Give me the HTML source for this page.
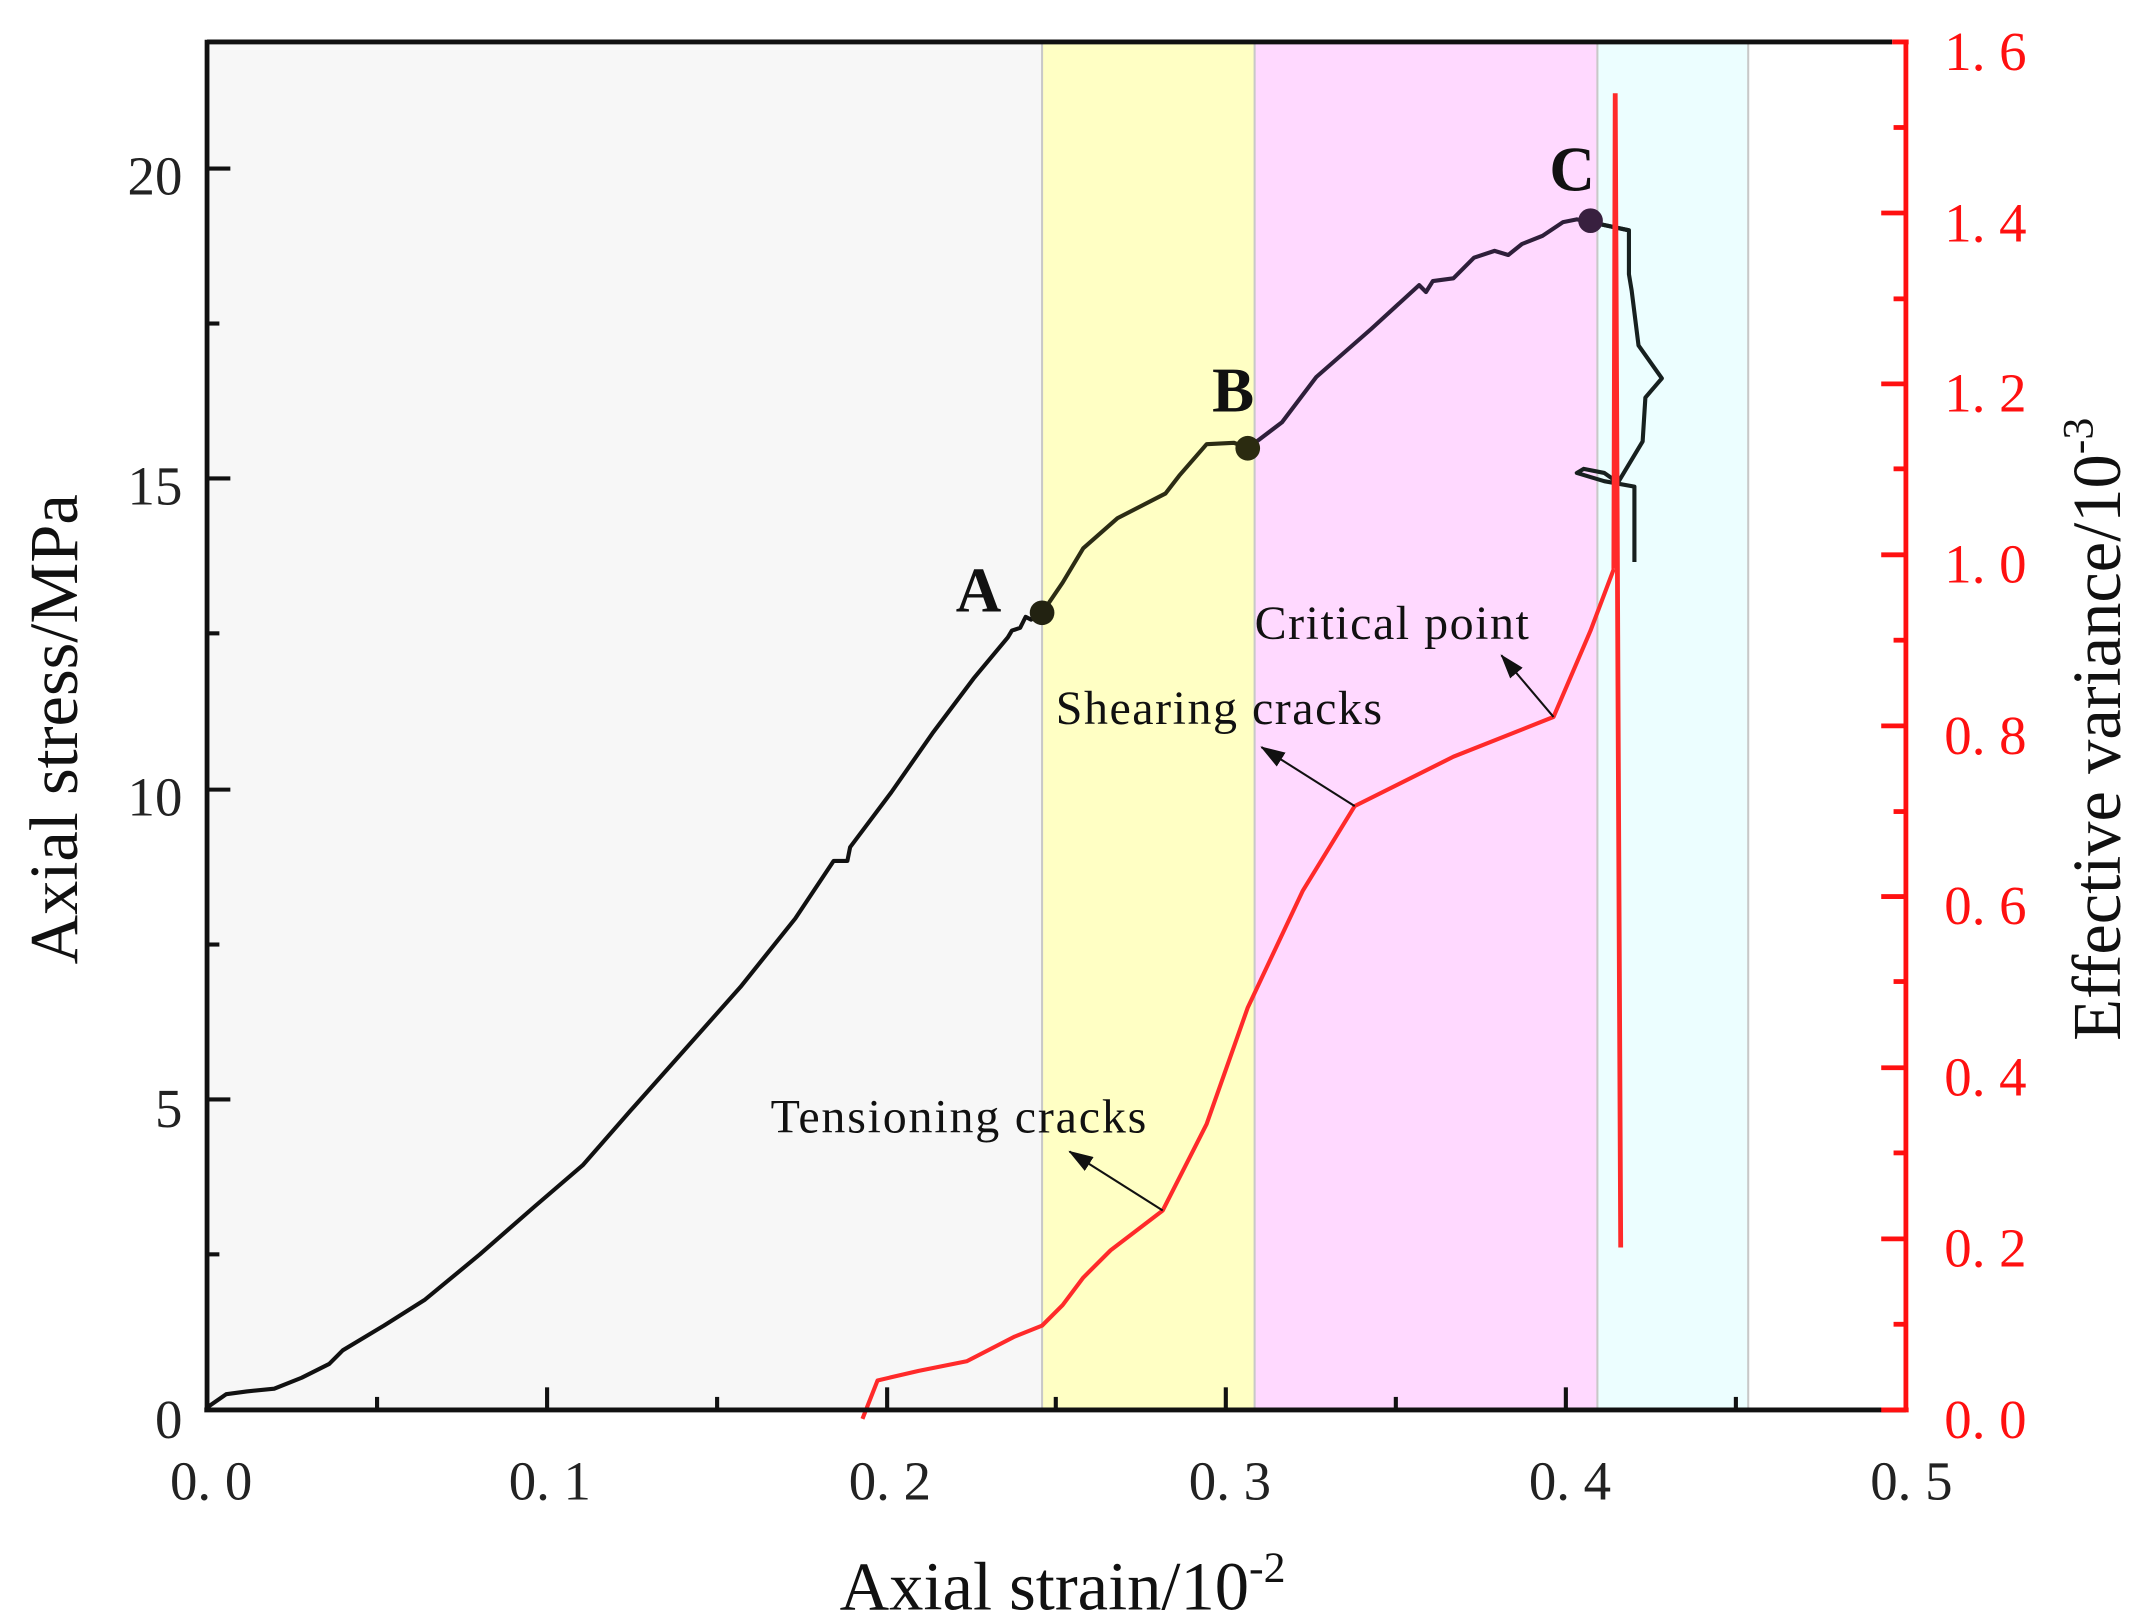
<!DOCTYPE html>
<html><head><meta charset="utf-8"><style>html,body{margin:0;padding:0;background:#fff}svg{display:block}</style></head>
<body>
<svg width="2139" height="1619" viewBox="0 0 1560 1181" preserveAspectRatio="none" xmlns="http://www.w3.org/2000/svg" font-family="Liberation Serif, serif">
<rect x="0" y="0" width="1560" height="1181" fill="#fff"/>
<rect x="151" y="30.6" width="609" height="998" fill="#f7f7f7"/>
<rect x="760" y="30.6" width="155" height="998" fill="#ffffc4"/>
<rect x="915" y="30.6" width="250" height="998" fill="#ffd9ff"/>
<rect x="1165" y="30.6" width="110" height="998" fill="#ecfeff"/>
<g stroke="#c8c8c8" stroke-width="1.5">
<line x1="760" y1="30.6" x2="760" y2="1028.5"/><line x1="915" y1="30.6" x2="915" y2="1028.5"/><line x1="1165" y1="30.6" x2="1165" y2="1028.5"/><line x1="1275" y1="30.6" x2="1275" y2="1028.5"/>
</g>
<polyline fill="none" stroke="#111" stroke-width="3" stroke-linejoin="round" points="152,1026 165,1017 180,1015 200,1013 220,1005 240,995 250,985 280,967 310,948 350,915 390,880 425,850 460,810 500,765 540,720 580,670 608,628 618,628 620,618 650,578 680,535 710,495 735,465 738,460 744,458 748,450 752,452 760,447"/>
<polyline fill="none" stroke="#2c2c14" stroke-width="3" stroke-linejoin="round" points="760,447 775,425 790,400 815,378 850,360 860,347 880,324 900,323 910,327"/>
<polyline fill="none" stroke="#2e1f3a" stroke-width="3" stroke-linejoin="round" points="910,327 935,308 960,275 1000,240 1035,208 1040,213 1045,205 1060,203 1075,188 1090,183 1100,186 1110,178 1125,172 1140,162 1150,160 1160,162 1188,168"/>
<polyline fill="none" stroke="#17201f" stroke-width="3" stroke-linejoin="round" points="1160,162 1188,168 1188,200 1190,212 1195,252 1212,276 1200,290 1198,322 1180,352 1170,345 1155,342 1150,345 1170,351 1192,355 1192,410"/>
<polyline fill="none" stroke="#ff2a2a" stroke-width="3" stroke-linejoin="round" points="629,1035 640,1007 670,1000 705,993 740,975 760,967 775,952 790,932 810,912 848,883 880,820 910,735 950,650 988,588 1060,552 1133,523 1160,460 1177,415"/>
<polyline fill="none" stroke="#ff2a2a" stroke-width="3.5" points="1177,415 1178,68 1180,500 1182,910"/>
<circle cx="760" cy="447" r="9" fill="#222211"/>
<circle cx="910" cy="327" r="9" fill="#2b2b10"/>
<circle cx="1160" cy="161" r="9" fill="#38203f"/>
<g font-weight="bold" font-size="46" fill="#111">
<text x="697" y="446">A</text><text x="884" y="300">B</text><text x="1130" y="139">C</text>
</g>
<g font-size="35" fill="#111">
<text x="915" y="466" textLength="200">Critical point</text>
<text x="770" y="528" textLength="238">Shearing cracks</text>
<text x="562" y="826" textLength="274">Tensioning cracks</text>
</g>
<defs>
<marker id="ar2" markerWidth="18" markerHeight="12" refX="17" refY="6" orient="auto" markerUnits="userSpaceOnUse"><path d="M0,0 L18,6 L0,12 z" fill="#111"/></marker></defs>
<g stroke="#111" stroke-width="1.5" marker-end="url(#ar2)">
<line x1="1133" y1="523" x2="1095" y2="478"/>
<line x1="988" y1="588" x2="920" y2="545"/>
<line x1="848" y1="883" x2="780" y2="840"/>
</g>
<g stroke="#111" stroke-width="3.5" fill="none">
<line x1="151" y1="30.6" x2="1380" y2="30.6"/>
<line x1="151" y1="29" x2="151" y2="1030"/>
<line x1="149" y1="1028.5" x2="1390" y2="1028.5"/>
</g>
<g stroke="#111" stroke-width="3">
<line x1="275" y1="1028" x2="275" y2="1019"/><line x1="399" y1="1028" x2="399" y2="1012"/>
<line x1="523" y1="1028" x2="523" y2="1019"/><line x1="647" y1="1028" x2="647" y2="1012"/>
<line x1="770" y1="1028" x2="770" y2="1019"/><line x1="894" y1="1028" x2="894" y2="1012"/>
<line x1="1018" y1="1028" x2="1018" y2="1019"/><line x1="1142" y1="1028" x2="1142" y2="1012"/>
<line x1="1266" y1="1028" x2="1266" y2="1019"/>
<line x1="151" y1="915" x2="160" y2="915"/><line x1="151" y1="802" x2="168" y2="802"/>
<line x1="151" y1="689" x2="160" y2="689"/><line x1="151" y1="576" x2="168" y2="576"/>
<line x1="151" y1="462" x2="160" y2="462"/><line x1="151" y1="349" x2="168" y2="349"/>
<line x1="151" y1="236" x2="160" y2="236"/><line x1="151" y1="123" x2="168" y2="123"/>
</g>
<g stroke="#ff1010" stroke-width="3.5">
<line x1="1380" y1="30.6" x2="1392" y2="30.6"/>
<line x1="1390" y1="29" x2="1390" y2="1030"/>
<line x1="1372" y1="1028.5" x2="1392" y2="1028.5"/>
<line x1="1381" y1="966" x2="1390" y2="966"/><line x1="1372" y1="903.7" x2="1390" y2="903.7"/>
<line x1="1381" y1="841" x2="1390" y2="841"/><line x1="1372" y1="778.9" x2="1390" y2="778.9"/>
<line x1="1381" y1="716" x2="1390" y2="716"/><line x1="1372" y1="654" x2="1390" y2="654"/>
<line x1="1381" y1="592" x2="1390" y2="592"/><line x1="1372" y1="529.5" x2="1390" y2="529.5"/>
<line x1="1381" y1="467" x2="1390" y2="467"/><line x1="1372" y1="404.7" x2="1390" y2="404.7"/>
<line x1="1381" y1="342" x2="1390" y2="342"/><line x1="1372" y1="280" x2="1390" y2="280"/>
<line x1="1381" y1="218" x2="1390" y2="218"/><line x1="1372" y1="155.4" x2="1390" y2="155.4"/>
<line x1="1381" y1="93" x2="1390" y2="93"/>
</g>
<g font-size="40" fill="#222" text-anchor="middle">
<text x="154" y="1094">0. 0</text><text x="401" y="1094">0. 1</text><text x="649" y="1094">0. 2</text>
<text x="897" y="1094">0. 3</text><text x="1145" y="1094">0. 4</text><text x="1394" y="1094">0. 5</text>
</g>
<g font-size="40" fill="#222" text-anchor="end">
<text x="133" y="1049">0</text><text x="133" y="822">5</text><text x="133" y="595">10</text>
<text x="133" y="368">15</text><text x="133" y="142">20</text>
</g>
<g font-size="40" fill="#ff1010">
<text x="1418" y="1049">0. 0</text><text x="1418" y="924">0. 2</text><text x="1418" y="799">0. 4</text>
<text x="1418" y="674">0. 6</text><text x="1418" y="550">0. 8</text><text x="1418" y="425">1. 0</text>
<text x="1418" y="300">1. 2</text><text x="1418" y="176">1. 4</text><text x="1418" y="51">1. 6</text>
</g>
<text x="775" y="1174" font-size="50" fill="#111" text-anchor="middle">Axial strain/10<tspan dy="-20" font-size="32">-2</tspan></text>
<text transform="translate(56,532) rotate(-90)" font-size="50" fill="#111" text-anchor="middle">Axial stress/MPa</text>
<text transform="translate(1546,532) rotate(-90)" font-size="50" fill="#111" text-anchor="middle">Effective variance/10<tspan dy="-20" font-size="32">-3</tspan></text>
</svg>
</body></html>
